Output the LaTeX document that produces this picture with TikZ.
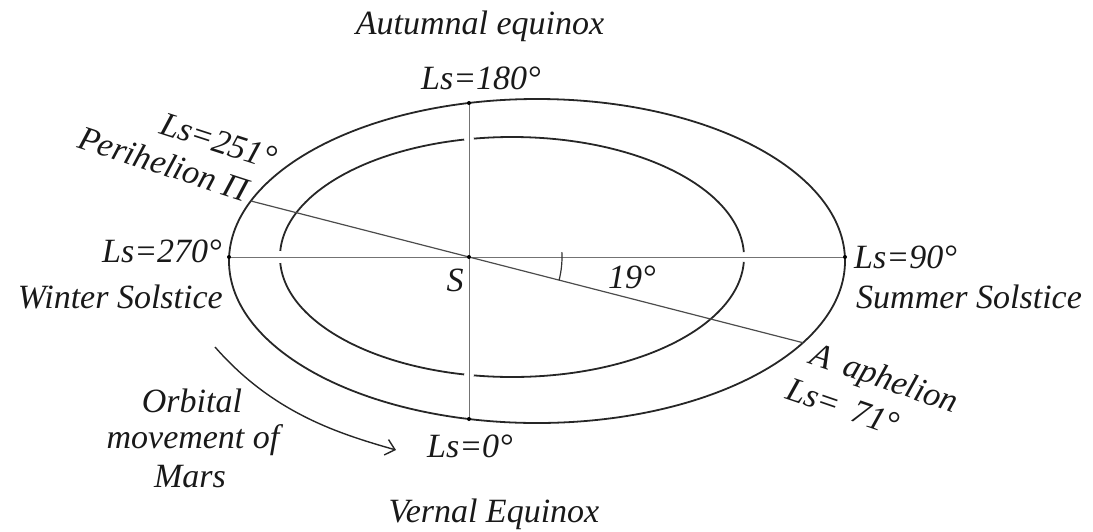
\documentclass[tikz,border=0pt]{standalone}
\usepackage{fontspec}
\setmainfont{Liberation Serif}
\usetikzlibrary{arrows.meta}
\begin{document}
\begin{tikzpicture}[x=1pt,y=-1pt,
  lbl/.style={font=\fontsize{34}{40}\selectfont\itshape, inner sep=0pt, text=black!90},
  orbit/.style={line width=1.8pt, draw=black!85},
  axisline/.style={line width=1pt, draw=black!55},
  apsis/.style={line width=1.2pt, draw=black!70},
  gap/.style={fill=white},
  enddot/.style={fill=black}
]
\useasboundingbox (0,0) rectangle (1093,531);
% key points
\coordinate (O) at (469,257);
\coordinate (T) at (469,103);
\coordinate (B) at (469,419);
\coordinate (Lf) at (229,257);
\coordinate (Rt) at (845,257);
\coordinate (P) at (250.9,201);
\coordinate (A) at (802.9,342.7);
% orbits
\draw[orbit] (537,261) ellipse [x radius=308, y radius=162];
\draw[orbit] (512,257) ellipse [x radius=232, y radius=120];
% gaps in the inner orbit where the axes cross
\fill[gap] (469,139) circle[radius=5];
\fill[gap] (469,375) circle[radius=5];
\fill[gap] (280,257) circle[radius=6];
\fill[gap] (744,257) circle[radius=5];
% axes
\draw[axisline] (T) -- (B);
\draw[axisline] (Lf) -- (Rt);
\draw[apsis] (P) -- (A);
% angle mark
\draw[line width=1.2pt, black!80] (O) ++(-3:93) arc[start angle=-3, end angle=14.4, radius=93];
% dots
\foreach \p in {T,B,Lf,Rt,O} \fill[enddot] (\p) circle[radius=2];
% labels
\node[lbl, anchor=base] (aut) at (480,34) {Autumnal equinox};
\node[lbl, anchor=base] (l180) at (481,89) {Ls=180°};
\node[lbl, anchor=base west, rotate=-18] (l251) at (158,133) {Ls=251°};
\node[lbl, anchor=base west, rotate=-18] (peri) at (76,147) {Perihelion Π};
\node[lbl, anchor=base east] (l270) at (222,262) {Ls=270°};
\node[lbl, anchor=base east] (win) at (223,308) {Winter Solstice};
\node[lbl, anchor=base west] (l90) at (854,268) {Ls=90°};
\node[lbl, anchor=base west] (sum) at (856,308) {Summer Solstice};
\node[lbl, anchor=base] (S) at (455,291) {S};
\node[lbl, anchor=base west] (ang) at (608,288) {19°};
\node[lbl, anchor=base west, rotate=-19] (aph) at (808,363) {A\, aphelion};
\node[lbl, anchor=base west, rotate=-19] (l71) at (784,398) {Ls=\, 71°};
\node[lbl, anchor=base] (l0) at (470,457) {Ls=0°};
\node[lbl, anchor=base] (ver) at (494,522) {Vernal Equinox};
\node[lbl, anchor=base] (or1) at (192,412) {Orbital};
\node[lbl, anchor=base] (or2) at (193,448) {movement of};
\node[lbl, anchor=base] (or3) at (190,487) {Mars};
% orbital movement arrow
\coordinate (m1) at (215,347);
\coordinate (m2) at (396,450);
\draw[line width=1.4pt, black!85, -{Straight Barb[length=9pt,width=16pt]}] (m1) .. controls (272,412) and (336,433) .. (m2);
\end{tikzpicture}
\end{document}
